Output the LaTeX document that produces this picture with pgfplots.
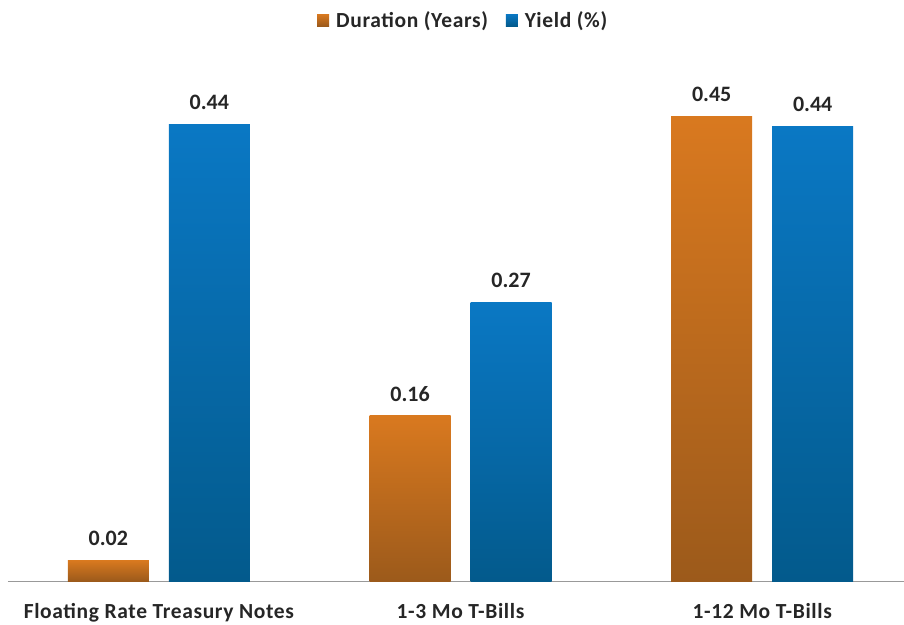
\documentclass[border=0pt]{standalone}
\usepackage{pgfplots}
\pgfplotsset{compat=1.18}
\usepackage{fontspec}
\setmainfont{Carlito}
\definecolor{durtop}{HTML}{D9791F}
\definecolor{durbot}{HTML}{9C5A1B}
\definecolor{durmid}{HTML}{BF6A1D}
\definecolor{yldtop}{HTML}{0A78C4}
\definecolor{yldbot}{HTML}{035A8C}
\definecolor{yldmid}{HTML}{066AA8}
\pgfplotsset{
  dur/.style={ybar, bar shift=-50.5pt, draw=none, top color=durtop, bottom color=durbot,
    nodes near coords style={xshift=-50.5pt}},
  yld/.style={ybar, bar shift=50.5pt, draw=none, top color=yldtop, bottom color=yldbot,
    nodes near coords style={xshift=50.5pt}},
}
\begin{document}
\begin{tikzpicture}
\begin{axis}[
    at={(8pt,43pt)}, anchor=south west,
    scale only axis,
    width=896pt, height=516.5pt,
    xmin=-0.5, xmax=2.47,
    ymin=0, ymax=0.5,
    axis y line=none,
    axis x line*=bottom,
    x axis line style={draw=black!40, line width=1pt, -},
    xtick={0,1,2},
    xticklabels={Floating Rate Treasury Notes, 1-3 Mo T-Bills, 1-12 Mo T-Bills},
    major tick length=0pt,
    xticklabel style={font=\fontsize{21.5}{24}\selectfont\bfseries\addfontfeatures{LetterSpace=3}, color=black!85, yshift=-19pt},
    bar width=81pt,
    nodes near coords,
    nodes near coords style={font=\fontsize{22}{24}\selectfont\bfseries, color=black!85,
        /pgf/number format/fixed, /pgf/number format/fixed zerofill,
        /pgf/number format/precision=2, /pgf/number format/assume math mode=true,
        yshift=11pt},
    legend columns=2,
    legend style={at={(0.508,1.086)}, anchor=center, draw=none, fill=none,
        font=\fontsize{21.5}{24}\selectfont\bfseries\addfontfeatures{LetterSpace=3}, text=black!85,
        /tikz/every even column/.append style={column sep=16pt}},
    clip=false,
]
\addplot[dur, legend image code/.code={\fill[durmid] (0pt,-6pt) rectangle (12pt,6pt); \path (0pt,0pt) -- (17pt,0pt);}]
    coordinates {(0,0.02)};
\addplot[yld, legend image code/.code={\fill[yldmid] (0pt,-6pt) rectangle (12pt,6pt); \path (0pt,0pt) -- (17pt,0pt);}]
    coordinates {(0,0.442)};
\addplot[dur, forget plot] coordinates {(1,0.16)};
\addplot[yld, forget plot] coordinates {(1,0.27)};
\addplot[dur, forget plot] coordinates {(2,0.45)};
\addplot[yld, forget plot] coordinates {(2,0.44)};
\legend{Duration (Years), Yield (\%)}
\end{axis}
\pgfresetboundingbox
\path (0pt,0pt) rectangle (904pt,624pt);
\end{tikzpicture}
\end{document}
